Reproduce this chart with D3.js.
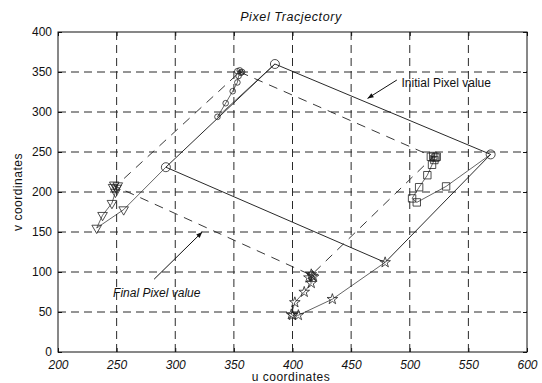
<!DOCTYPE html>
<html><head><meta charset="utf-8">
<script src="https://cdn.jsdelivr.net/npm/d3@7"></script>
<style>
html,body{margin:0;padding:0;background:#fff;}
text{font-family:"Liberation Sans",Arial,sans-serif;fill:#111;}
</style></head>
<body><svg id="chart" width="542" height="383"></svg>
<script>
// ---- data ----
const xTicks = [200, 250, 300, 350, 400, 450, 500, 550, 600];
const yTicks = [0, 50, 100, 150, 200, 250, 300, 350, 400];

// initial pixel positions (solid quadrilateral) and final (dashed quadrilateral)
const initU = [385, 569, 479, 292];
const initV = [360, 247, 112, 231];
const finalU = [355, 520, 416, 249];
const finalV = [350, 244, 96, 207];

// feature trajectories
const topU = [385, 336, 343, 349, 353, 354, 356, 355, 353, 357];
const topV = [360, 294, 311, 326, 337, 345, 349, 352, 351, 350];
const sqU = [569, 531, 506, 502, 508, 515, 519, 521, 518, 522, 520, 523];
const sqV = [247, 207, 187, 192, 206, 221, 234, 240, 244, 243, 245, 244];
const starU = [479, 434, 405, 400, 399, 402, 410, 416, 414, 417, 416, 418];
const starV = [112, 66, 46, 46, 47, 62, 75, 86, 93, 95, 97, 94];
const triU = [292, 256, 233, 238, 246, 249, 247, 251, 250, 248];
const triV = [231, 178, 155, 171, 186, 200, 206, 208, 205, 209];

const titleText = "Pixel Tracjectory";
const xLabel = "u coordinates";
const yLabel = "v coordinates";
const initLabel = "Initial Pixel value";
const finalLabel = "Final Pixel value";

// ---- drawing ----
const svg = d3.select("#chart");
const L = 58, R = 527, T = 32, B = 352;
const x = d3.scaleLinear().domain([200, 600]).range([L, R]);
const y = d3.scaleLinear().domain([0, 400]).range([B, T]);

svg.append("defs").append("marker")
  .attr("id", "ah").attr("viewBox", "0 0 10 10").attr("refX", 10).attr("refY", 5)
  .attr("markerWidth", 11).attr("markerHeight", 6).attr("markerUnits", "userSpaceOnUse")
  .attr("orient", "auto")
  .append("path").attr("d", "M0,1 L10,5 L0,9 Z").attr("fill", "#111");

// grid
const g = svg.append("g");
g.selectAll(".gx").data(xTicks.slice(1, -1)).join("line")
  .attr("x1", d => x(d)).attr("x2", d => x(d)).attr("y1", T).attr("y2", B)
  .attr("stroke", "#2a2a2a").attr("stroke-width", 1).attr("stroke-dasharray", "8,5");
g.selectAll(".gy").data(yTicks.slice(1, -1)).join("line")
  .attr("y1", d => y(d)).attr("y2", d => y(d)).attr("x1", L).attr("x2", R)
  .attr("stroke", "#2a2a2a").attr("stroke-width", 1).attr("stroke-dasharray", "8,5");

// axes (inward ticks)
const xa = svg.append("g").attr("transform", `translate(0,${B})`)
  .call(d3.axisBottom(x).tickValues(xTicks).tickSize(-4).tickPadding(8));
const ya = svg.append("g").attr("transform", `translate(${L},0)`)
  .call(d3.axisLeft(y).tickValues(yTicks).tickSize(-4).tickPadding(6));
[xa, ya].forEach(a => {
  a.select(".domain").remove();
  a.selectAll("line").attr("stroke", "#111");
  a.selectAll("text").attr("font-size", 12).attr("font-family", "Liberation Sans, Arial, sans-serif").attr("fill", "#111");
});
xa.selectAll("text").attr("font-style", "italic");
svg.append("g").call(d3.axisTop(x).tickValues(xTicks).tickSize(-4).tickFormat(""))
  .attr("transform", `translate(0,${T})`).call(a => { a.select(".domain").remove(); a.selectAll("line").attr("stroke", "#111"); });
svg.append("g").call(d3.axisRight(y).tickValues(yTicks).tickSize(-4).tickFormat(""))
  .attr("transform", `translate(${R},0)`).call(a => { a.select(".domain").remove(); a.selectAll("line").attr("stroke", "#111"); });

svg.append("rect").attr("x", L).attr("y", T).attr("width", R - L).attr("height", B - T)
  .attr("fill", "none").attr("stroke", "#111").attr("stroke-width", 1);

const plot = svg.append("g");
const line = d3.line().x(d => x(d[0])).y(d => y(d[1]));
const zipUV = (u, v) => u.map((d, i) => [d, v[i]]);
const closed = a => a.concat([a[0]]);

// initial quadrilateral (solid) and final quadrilateral (dashed)
plot.append("path").attr("d", line(closed(zipUV(initU, initV))))
  .attr("fill", "none").attr("stroke", "#111").attr("stroke-width", 0.9);
plot.append("path").attr("d", line(closed(zipUV(finalU, finalV))))
  .attr("fill", "none").attr("stroke", "#222").attr("stroke-width", 0.9).attr("stroke-dasharray", "9,7");

const trajs = [
  {u: topU, v: topV, sym: d3.symbolCircle, size: 25, startIdx: 1},
  {u: sqU, v: sqV, sym: d3.symbolSquare, size: 55, startIdx: 1},
  {u: starU, v: starV, sym: d3.symbolStar, size: 35, startIdx: 0},
  {u: triU, v: triV, sym: d3.symbolTriangle, size: 40, startIdx: 1}
];
trajs.forEach(t => {
  const pts = zipUV(t.u, t.v);
  plot.append("path").attr("d", line(pts)).attr("fill", "none")
    .attr("stroke", "#222").attr("stroke-width", 0.7);
  plot.selectAll(null).data(pts.slice(t.startIdx)).join("path")
    .attr("transform", d => `translate(${x(d[0])},${y(d[1])})` + (t.sym === d3.symbolTriangle ? " rotate(180)" : ""))
    .attr("d", d3.symbol(t.sym, t.size))
    .attr("fill", "none").attr("stroke", "#222").attr("stroke-width", 0.8);
});
// initial points drawn with circles
plot.selectAll(null).data(zipUV(initU, initV).filter((d, i) => i !== 2)).join("circle")
  .attr("cx", d => x(d[0])).attr("cy", d => y(d[1])).attr("r", 4.5)
  .attr("fill", "none").attr("stroke", "#222").attr("stroke-width", 0.8);

// annotations
svg.append("line").attr("x1", x(489)).attr("y1", y(340)).attr("x2", x(464)).attr("y2", y(317))
  .attr("stroke", "#111").attr("stroke-width", 1).attr("marker-end", "url(#ah)");
svg.append("text").attr("x", x(493)).attr("y", y(336)).attr("dy", "0.35em")
  .attr("font-size", 12).text(initLabel);
svg.append("line").attr("x1", x(282)).attr("y1", y(91)).attr("x2", x(323)).attr("y2", y(150))
  .attr("stroke", "#111").attr("stroke-width", 1).attr("marker-end", "url(#ah)");
svg.append("text").attr("x", x(247)).attr("y", y(74)).attr("dy", "0.35em")
  .attr("font-size", 12).attr("font-style", "italic").text(finalLabel);

// titles
svg.append("text").attr("x", 291).attr("y", 17).attr("dy", "0.35em").attr("text-anchor", "middle")
  .attr("font-size", 12.5).attr("font-style", "italic").attr("letter-spacing", "0.6px").text(titleText);
svg.append("text").attr("x", 291).attr("y", 377).attr("dy", "0.35em").attr("text-anchor", "middle")
  .attr("font-size", 12).attr("letter-spacing", "0.5px").text(xLabel);
svg.append("text").attr("transform", "translate(18,192) rotate(-90)").attr("dy", "0.35em")
  .attr("text-anchor", "middle").attr("font-size", 12).attr("letter-spacing", "0.5px").text(yLabel);
</script></body></html>
